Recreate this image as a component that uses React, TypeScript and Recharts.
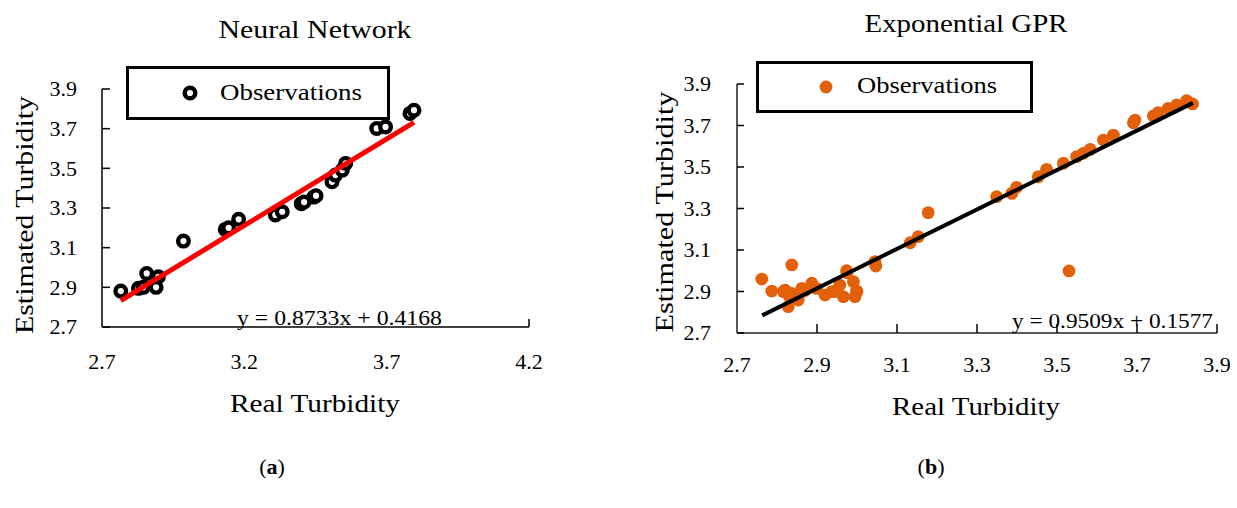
import React from 'react';
import { ScatterChart, Scatter, XAxis, YAxis, Legend, Label } from 'recharts';

const FONT = '"Liberation Serif", "Times New Roman", serif';

// ---- Data ----
const nnRealX = [2.766, 2.828, 2.845, 2.857, 2.890, 2.898, 2.986, 3.133, 3.145, 3.180, 3.309, 3.333, 3.400, 3.410, 3.444, 3.452, 3.508, 3.520, 3.544, 3.556, 3.665, 3.696, 3.782, 3.796];
const nnEstY = [2.881, 2.895, 2.900, 2.970, 2.900, 2.953, 3.133, 3.192, 3.200, 3.243, 3.265, 3.281, 3.322, 3.330, 3.355, 3.362, 3.432, 3.466, 3.491, 3.525, 3.701, 3.709, 3.777, 3.793];

const gprRealX = [2.762, 2.787, 2.816, 2.820, 2.828, 2.830, 2.837, 2.837, 2.853, 2.862, 2.870, 2.887, 2.899, 2.920, 2.937, 2.945, 2.957, 2.966, 2.974, 2.975, 2.991, 2.995, 2.999, 3.000, 3.045, 3.047, 3.133, 3.153, 3.178, 3.349, 3.387, 3.399, 3.453, 3.474, 3.516, 3.530, 3.549, 3.566, 3.583, 3.616, 3.641, 3.691, 3.695, 3.741, 3.753, 3.778, 3.799, 3.824, 3.839];
const gprEstY = [2.960, 2.902, 2.899, 2.907, 2.827, 2.880, 3.028, 2.891, 2.859, 2.915, 2.905, 2.940, 2.915, 2.883, 2.899, 2.900, 2.931, 2.875, 3.000, 2.990, 2.947, 2.875, 2.902, 2.900, 3.044, 3.023, 3.135, 3.164, 3.280, 3.357, 3.373, 3.402, 3.453, 3.489, 3.518, 2.999, 3.550, 3.566, 3.585, 3.630, 3.654, 3.713, 3.726, 3.746, 3.762, 3.783, 3.799, 3.820, 3.804];

const nnTrendX = [2.766, 3.796];
const nnTrendY = [2.833, 3.732];
const gprTrendX = [2.763, 3.840];
const gprTrendY = [2.785, 3.809];

const nnXTicks = [2.7, 3.2, 3.7, 4.2];
const gprXTicks = [2.7, 2.9, 3.1, 3.3, 3.5, 3.7, 3.9];
const yTicks = [2.7, 2.9, 3.1, 3.3, 3.5, 3.7, 3.9];

const titleNN = 'Neural Network';
const titleGPR = 'Exponential GPR';
const eqNN = 'y = 0.8733x + 0.4168';
const eqGPR = 'y = 0.9509x + 0.1577';
const seriesName = 'Observations';
const xTitle = 'Real Turbidity';
const yTitle = 'Estimated Turbidity';
const captions = ['a', 'b'];

const ORANGE = '#E2600A';

const zip = (xs: number[], ys: number[]) => xs.map((x, i) => ({ x, y: ys[i] }));
const nnData = zip(nnRealX, nnEstY);
const gprData = zip(gprRealX, gprEstY);
const nnTrend = zip(nnTrendX, nnTrendY);
const gprTrend = zip(gprTrendX, gprTrendY);

const makeYTick = (margin: number, len: number) => (props: any) => {
  const { x, y, payload } = props;
  return (
    <g>
      <line x1={x + margin} x2={x + margin + len} y1={y} y2={y} stroke="#000" strokeWidth={1.5} />
      <text x={x} y={y} dy="0.34em" textAnchor="end" fontFamily={FONT} fontSize={22} fill="#000">
        {Number(payload.value).toFixed(1)}
      </text>
    </g>
  );
};

const makeXTick = (margin: number, len: number, show: (v: number) => boolean) => (props: any) => {
  const { x, y, payload } = props;
  const v = Number(payload.value);
  const axisY = y - margin;
  return (
    <g>
      {show(v) && <line x1={x} x2={x} y1={axisY} y2={axisY - len} stroke="#000" strokeWidth={1.5} />}
      <text x={x} y={y} dy="0.34em" textAnchor="middle" fontFamily={FONT} fontSize={22} fill="#000">
        {v.toFixed(1)}
      </text>
    </g>
  );
};

const ring = (props: any) => (
  <circle cx={props.cx} cy={props.cy} r={5.3} fill="#fff" stroke="#000" strokeWidth={4.4} />
);
const dot = (props: any) => <circle cx={props.cx} cy={props.cy} r={6.4} fill={ORANGE} />;
const none = () => <g />;

export default function App() {
  return (
    <div style={{ position: 'absolute', left: 0, top: 0, width: 1237, height: 508, background: '#fff', overflow: 'hidden' }}>
      {/* (a) Neural Network */}
      <div style={{ position: 'absolute', left: 0, top: 0 }}>
        <ScatterChart width={560} height={508} margin={{ top: 89, right: 31, bottom: 0, left: 0 }}>
          <XAxis
            type="number"
            dataKey="x"
            domain={[2.7, 4.2]}
            ticks={nnXTicks}
            interval={0}
            allowDataOverflow
            height={181}
            tickSize={0}
            tickMargin={35}
            axisLine={{ stroke: '#000', strokeWidth: 1.5 }}
            tick={makeXTick(35, 8, (v) => v > 4.1)}
          >
            <Label
              content={() => (
                <text x={315} y={412} textAnchor="middle" fontFamily={FONT} fontSize={26} fill="#000" textLength={170} lengthAdjust="spacingAndGlyphs">
                  {xTitle}
                </text>
              )}
            />
          </XAxis>
          <YAxis
            type="number"
            dataKey="y"
            domain={[2.7, 3.9]}
            ticks={yTicks}
            interval={0}
            allowDataOverflow
            width={102}
            tickSize={0}
            tickMargin={25}
            axisLine={{ stroke: '#000', strokeWidth: 1.5 }}
            tick={makeYTick(25, 8)}
          >
            <Label
              content={() => (
                <text x={33} y={215} transform="rotate(-90, 33, 215)" textAnchor="middle" fontFamily={FONT} fontSize={26} fill="#000" textLength={238} lengthAdjust="spacingAndGlyphs">
                  {yTitle}
                </text>
              )}
            />
          </YAxis>
          <Legend
            layout="horizontal"
            verticalAlign="middle"
            align="center"
            wrapperStyle={{ position: 'absolute', left: 126, top: 66, width: 264, height: 54, margin: 0, padding: 0 }}
            content={() => (
              <svg width={264} height={54} style={{ display: 'block' }}>
                <rect x={1.5} y={1.5} width={261} height={51} fill="#fff" stroke="#000" strokeWidth={3} />
                <circle cx={64} cy={27} r={5.3} fill="#fff" stroke="#000" strokeWidth={4.4} />
                <text x={94} y={34} fontFamily={FONT} fontSize={23} fill="#000" textLength={142} lengthAdjust="spacingAndGlyphs">
                  {seriesName}
                </text>
              </svg>
            )}
          />
          <Scatter name={seriesName} data={nnData} isAnimationActive={false} shape={ring} fill="#000" />
          <Scatter
            name="trend"
            data={nnTrend}
            isAnimationActive={false}
            fill="#FF0000"
            line={{ stroke: '#FF0000', strokeWidth: 5 }}
            lineType="joint"
            shape={none}
            legendType="none"
          />
        </ScatterChart>
      </div>

      {/* (b) Exponential GPR */}
      <div style={{ position: 'absolute', left: 620, top: 0 }}>
        <ScatterChart width={617} height={508} margin={{ top: 84, right: 20, bottom: 0, left: 0 }}>
          <XAxis
            type="number"
            dataKey="x"
            domain={[2.7, 3.9]}
            ticks={gprXTicks}
            interval={0}
            allowDataOverflow
            height={175}
            tickSize={0}
            tickMargin={32}
            axisLine={{ stroke: '#222', strokeWidth: 1.5 }}
            tick={makeXTick(32, 9, (v) => v > 2.8)}
          >
            <Label
              content={() => (
                <text x={356} y={415} textAnchor="middle" fontFamily={FONT} fontSize={26} fill="#000" textLength={168} lengthAdjust="spacingAndGlyphs">
                  {xTitle}
                </text>
              )}
            />
          </XAxis>
          <YAxis
            type="number"
            dataKey="y"
            domain={[2.7, 3.9]}
            ticks={yTicks}
            interval={0}
            allowDataOverflow
            width={117}
            tickSize={0}
            tickMargin={26}
            axisLine={{ stroke: '#222', strokeWidth: 1.5 }}
            tick={makeYTick(26, 7)}
          >
            <Label
              content={() => (
                <text x={53} y={212} transform="rotate(-90, 53, 212)" textAnchor="middle" fontFamily={FONT} fontSize={26} fill="#000" textLength={241} lengthAdjust="spacingAndGlyphs">
                  {yTitle}
                </text>
              )}
            />
          </YAxis>
          <Legend
            layout="horizontal"
            verticalAlign="middle"
            align="center"
            wrapperStyle={{ position: 'absolute', left: 136, top: 61, width: 277, height: 52, margin: 0, padding: 0 }}
            content={() => (
              <svg width={277} height={52} style={{ display: 'block' }}>
                <rect x={1.5} y={1.5} width={274} height={49} fill="#fff" stroke="#000" strokeWidth={3} />
                <circle cx={70} cy={26} r={6.4} fill={ORANGE} />
                <text x={101} y={32} fontFamily={FONT} fontSize={23} fill="#000" textLength={140} lengthAdjust="spacingAndGlyphs">
                  {seriesName}
                </text>
              </svg>
            )}
          />
          <Scatter name={seriesName} data={gprData} isAnimationActive={false} shape={dot} fill={ORANGE} />
          <Scatter
            name="trend"
            data={gprTrend}
            isAnimationActive={false}
            fill="#000"
            line={{ stroke: '#000', strokeWidth: 4 }}
            lineType="joint"
            shape={none}
            legendType="none"
          />
        </ScatterChart>
      </div>

      {/* Titles, equations, captions */}
      <svg width={1237} height={508} style={{ position: 'absolute', left: 0, top: 0, pointerEvents: 'none' }}>
        <text x={315} y={38} textAnchor="middle" fontFamily={FONT} fontSize={25} fill="#000" textLength={193} lengthAdjust="spacingAndGlyphs">
          {titleNN}
        </text>
        <text x={966} y={32} textAnchor="middle" fontFamily={FONT} fontSize={25} fill="#000" textLength={203} lengthAdjust="spacingAndGlyphs">
          {titleGPR}
        </text>
        <text x={237} y={325} fontFamily={FONT} fontSize={21} fill="#000" textLength={205} lengthAdjust="spacingAndGlyphs">
          {eqNN}
        </text>
        <text x={1012} y={328} fontFamily={FONT} fontSize={22} fill="#000" textLength={201} lengthAdjust="spacingAndGlyphs">
          {eqGPR}
        </text>
        <text x={272} y={474} textAnchor="middle" fontFamily={FONT} fontSize={22} fill="#000">
          (<tspan fontWeight="bold">{captions[0]}</tspan>)
        </text>
        <text x={931} y={474} textAnchor="middle" fontFamily={FONT} fontSize={22} fill="#000">
          (<tspan fontWeight="bold">{captions[1]}</tspan>)
        </text>
      </svg>
    </div>
  );
}
